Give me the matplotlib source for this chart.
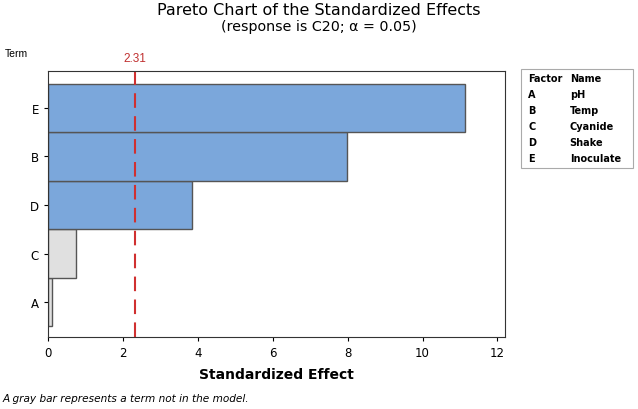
import matplotlib
matplotlib.use("Agg")
import matplotlib.pyplot as plt

# standardized effects, bottom to top
terms = ["A", "C", "D", "B", "E"]
effects = [0.10, 0.75, 3.85, 7.97, 11.12]
in_model = [False, False, True, True, True]
critical = 2.31

factors = ["A", "B", "C", "D", "E"]
names = ["pH", "Temp", "Cyanide", "Shake", "Inoculate"]

fig = plt.figure(figsize=(6.38, 4.10), dpi=100)
ax = fig.add_axes([0.0752, 0.1756, 0.7163, 0.6488])

colors = ["#7ba7db" if m else "#e0e0e0" for m in in_model]
ax.barh(range(len(terms)), effects, height=1.0, color=colors,
        edgecolor="#555555", linewidth=1.0)
ax.axvline(critical, color="#d03030", linestyle=(0, (7, 4)), linewidth=1.5)
ax.text(critical, 4.9, f"{critical:.2f}", color="#c03030", ha="center",
        va="bottom", fontsize=8.5, family="Liberation Sans")

ax.set_xlim(0, 12.2)
ax.set_ylim(-0.72, 4.76)
ax.set_xticks([0, 2, 4, 6, 8, 10, 12])
ax.set_yticks(range(len(terms)))
ax.set_yticklabels(terms)
ax.tick_params(labelsize=8.5, length=3)
for s in ax.spines.values():
    s.set_color("#333333")

ax.set_xlabel("Standardized Effect", fontsize=10, fontweight="bold", labelpad=6)
fig.text(0.008, 0.862, "Term", fontsize=7.5, family="Liberation Sans")

fig.text(0.5, 0.975, "Pareto Chart of the Standardized Effects", ha="center",
         va="center", fontsize=11.5)
fig.text(0.5, 0.934, "(response is C20; \u03b1 = 0.05)", ha="center",
         va="center", fontsize=10.3)

fig.text(0.004, 0.02, "A gray bar represents a term not in the model.",
         fontsize=7.6, style="italic")

# factor name table
box = plt.Rectangle((0.817, 0.587), 0.175, 0.243, transform=fig.transFigure,
                    facecolor="white", edgecolor="#aaaaaa", linewidth=0.8)
fig.patches.append(box)
rows = [("Factor", "Name")] + list(zip(factors, names))
for i, (f, n) in enumerate(rows):
    y = 0.808 - i * 0.039
    fig.text(0.828, y, f, fontsize=7, fontweight="bold", va="center")
    fig.text(0.893, y, n, fontsize=7, fontweight="bold", va="center")

fig.savefig("out.png", dpi=100)
